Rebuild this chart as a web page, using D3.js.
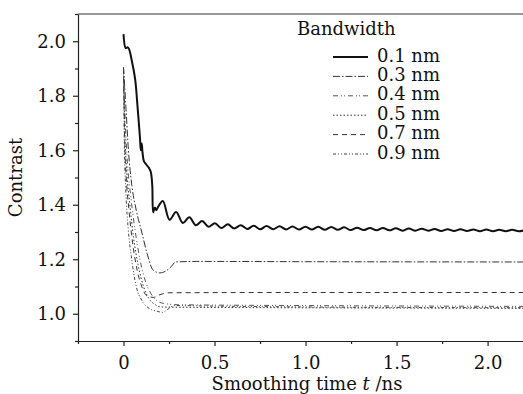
<!DOCTYPE html>
<html>
<head>
<meta charset="utf-8">
<script src="https://cdn.jsdelivr.net/npm/d3@7"></script>
<style>
  body { margin: 0; background: #fff; }
  svg { display: block; }
  text { font-family: "DejaVu Serif", serif; fill: #111; }
</style>
</head>
<body>
<svg id="chart" width="523" height="394"></svg>
<script>
// bandwidths shown in the legend
const bandwidths = ["0.1 nm", "0.3 nm", "0.4 nm", "0.5 nm", "0.7 nm", "0.9 nm"];
const legendTitle = "Bandwidth";

// 0.1 nm: time (ns) and contrast
const t01 = [0, 0.012, 0.022, 0.03, 0.045, 0.064, 0.077, 0.09, 0.095, 0.1, 0.104, 0.112, 0.128, 0.14, 0.15, 0.158, 0.163, 0.172, 0.18, 0.19,
  0.216, 0.253, 0.289, 0.326, 0.362, 0.397, 0.432, 0.467, 0.502, 0.537, 0.573, 0.608, 0.644, 0.68, 0.715, 0.751, 0.786, 0.822,
  0.857, 0.893, 0.928, 0.964, 0.999, 1.035, 1.07, 1.106, 1.141, 1.177, 1.212, 1.248, 1.283, 1.319, 1.354, 1.39, 1.425, 1.461,
  1.496, 1.532, 1.567, 1.603, 1.638, 1.674, 1.709, 1.745, 1.78, 1.816, 1.851, 1.887, 1.922, 1.958, 1.993, 2.029, 2.064, 2.1,
  2.135, 2.171, 2.206];
const c01 = [2.026, 1.975, 1.978, 1.972, 1.93, 1.86, 1.76, 1.65, 1.6, 1.625, 1.595, 1.56, 1.545, 1.535, 1.52, 1.47, 1.372, 1.39, 1.38, 1.392,
  1.414, 1.345, 1.373, 1.333, 1.354, 1.325, 1.34, 1.319, 1.332, 1.315, 1.328, 1.313, 1.325, 1.311, 1.323, 1.31, 1.322, 1.31,
  1.321, 1.309, 1.32, 1.309, 1.319, 1.309, 1.319, 1.308, 1.318, 1.308, 1.317, 1.307, 1.316, 1.307, 1.315, 1.306, 1.315, 1.306,
  1.314, 1.305, 1.313, 1.305, 1.312, 1.305, 1.311, 1.304, 1.31, 1.304, 1.31, 1.304, 1.309, 1.303, 1.309, 1.303, 1.308, 1.303,
  1.308, 1.303, 1.307];

const t03 = [0, 0.014, 0.027, 0.046, 0.07, 0.1, 0.13, 0.163, 0.2, 0.235, 0.265, 0.285, 0.4, 1.0, 2.2];
const c03 = [1.905, 1.75, 1.6, 1.47, 1.38, 1.3, 1.22, 1.16, 1.15, 1.158, 1.175, 1.19, 1.192, 1.191, 1.19];

const t04 = [0, 0.01, 0.022, 0.04, 0.065, 0.09, 0.12, 0.15, 0.18, 0.22, 0.3, 1.0, 2.2];
const c04 = [1.9, 1.7, 1.55, 1.43, 1.3, 1.2, 1.12, 1.075, 1.05, 1.038, 1.033, 1.03, 1.027];

const t05 = [0, 0.008, 0.018, 0.035, 0.055, 0.08, 0.11, 0.14, 0.17, 0.21, 0.3, 1.0, 2.2];
const c05 = [1.9, 1.65, 1.52, 1.4, 1.28, 1.18, 1.1, 1.055, 1.035, 1.025, 1.024, 1.022, 1.02];

const t07 = [0, 0.007, 0.015, 0.03, 0.05, 0.075, 0.1, 0.13, 0.165, 0.2, 0.25, 1.0, 2.2];
const c07 = [1.9, 1.62, 1.5, 1.38, 1.26, 1.16, 1.1, 1.065, 1.06, 1.07, 1.077, 1.078, 1.078];

const t09 = [0, 0.005, 0.012, 0.026, 0.045, 0.07, 0.1, 0.14, 0.18, 0.215, 0.24, 0.28, 0.5, 1.0, 2.2];
const c09 = [1.9, 1.6, 1.46, 1.31, 1.2, 1.1, 1.05, 1.02, 1.01, 1.005, 1.015, 1.03, 1.028, 1.025, 1.022];

const xTicks = [0, 0.5, 1.0, 1.5, 2.0];
const xTickLabels = ["0", "0.5", "1.0", "1.5", "2.0"];
const xMinor = [-0.25, 0.25, 0.75, 1.25, 1.75];
const yTicks = [1.0, 1.2, 1.4, 1.6, 1.8, 2.0];
const yMinor = [0.9, 1.1, 1.3, 1.5, 1.7, 1.9, 2.1];

const times = [t01, t03, t04, t05, t07, t09];
const values = [c01, c03, c04, c05, c07, c09];
const dashes = [null, "7,2,1.5,2", "5,3,1,2,1,3", "1.5,2", "5,4", "3,2,1,2,1,2"];
const widths = [2, 1, 1, 1, 1, 1];
const strokes = ["#111", "#333", "#555", "#333", "#333", "#444"];

const svg = d3.select("#chart");
const plotLeft = 78, plotRight = 524, plotTop = 14, plotBottom = 341;

const x = d3.scaleLinear().domain([-0.25, 2.2]).range([plotLeft, plotRight]);
const y = d3.scaleLinear().domain([0.9, 2.1]).range([plotBottom, plotTop]);

svg.append("defs").append("clipPath").attr("id", "plot")
   .append("rect").attr("x", plotLeft).attr("y", plotTop).attr("width", plotRight - plotLeft).attr("height", plotBottom - plotTop);

// x axis
svg.append("g")
   .attr("transform", "translate(0," + plotBottom + ")")
   .call(d3.axisBottom(x).tickValues(xTicks).tickFormat((d, i) => xTickLabels[i]).tickSize(5).tickSizeOuter(0).tickPadding(10));
svg.append("g")
   .attr("transform", "translate(0," + plotBottom + ")")
   .call(d3.axisBottom(x).tickValues(xMinor).tickFormat("").tickSize(3).tickSizeOuter(0))
   .select(".domain").remove();

// y axis
svg.append("g")
   .attr("transform", "translate(" + plotLeft + ",0)")
   .call(d3.axisLeft(y).tickValues(yTicks).tickFormat(d3.format(".1f")).tickSize(5).tickSizeOuter(0).tickPadding(7));
svg.append("g")
   .attr("transform", "translate(" + plotLeft + ",0)")
   .call(d3.axisLeft(y).tickValues(yMinor).tickFormat("").tickSize(3).tickSizeOuter(0))
   .select(".domain").remove();

svg.selectAll(".domain").attr("stroke", "#222").attr("stroke-width", 1.2);
svg.selectAll(".tick line").attr("stroke", "#222").attr("stroke-width", 1.2);
svg.selectAll(".tick text").style("font-family", "DejaVu Serif").style("font-size", "18px").attr("fill", "#111");

// frame top
svg.append("line")
   .attr("x1", plotLeft).attr("x2", plotRight).attr("y1", plotTop).attr("y2", plotTop)
   .attr("stroke", "#333").attr("stroke-width", 1.2);

// axis titles
svg.append("text")
   .attr("text-anchor", "middle")
   .attr("transform", "translate(22," + ((plotTop + plotBottom) / 2) + ")rotate(-90)")
   .style("font-size", "18px")
   .text("Contrast");

const xt = svg.append("text")
   .attr("text-anchor", "middle")
   .attr("x", 307).attr("y", 390)
   .style("font-size", "18px");
xt.append("tspan").text("Smoothing time ");
xt.append("tspan").style("font-style", "italic").text("t");
xt.append("tspan").text(" /ns");

// lines
const line = d3.line()
   .x(d => x(d[0]))
   .y(d => y(d[1]));

const plot = svg.append("g").attr("clip-path", "url(#plot)");
times.forEach((ts, i) => {
  const pts = ts.map((t, j) => [t, values[i][j]]);
  plot.append("path")
      .datum(pts)
      .attr("d", line.curve(i === 0 ? d3.curveCatmullRom : d3.curveMonotoneX))
      .attr("fill", "none")
      .attr("stroke", strokes[i])
      .attr("stroke-width", widths[i])
      .attr("stroke-dasharray", dashes[i]);
});

// legend
const legend = svg.append("g").attr("class", "legend");
legend.append("text").attr("x", 297).attr("y", 35).style("font-size", "18px").text(legendTitle);
bandwidths.forEach((b, i) => {
  const by = 61.5 + i * 19.4;
  legend.append("line")
        .attr("x1", 333).attr("x2", 368)
        .attr("y1", by - 4.5).attr("y2", by - 4.5)
        .attr("stroke", strokes[i])
        .attr("stroke-width", widths[i])
        .attr("stroke-dasharray", dashes[i]);
  legend.append("text").attr("x", 377).attr("y", by).style("font-size", "18px").text(b);
});
</script>
</body>
</html>
